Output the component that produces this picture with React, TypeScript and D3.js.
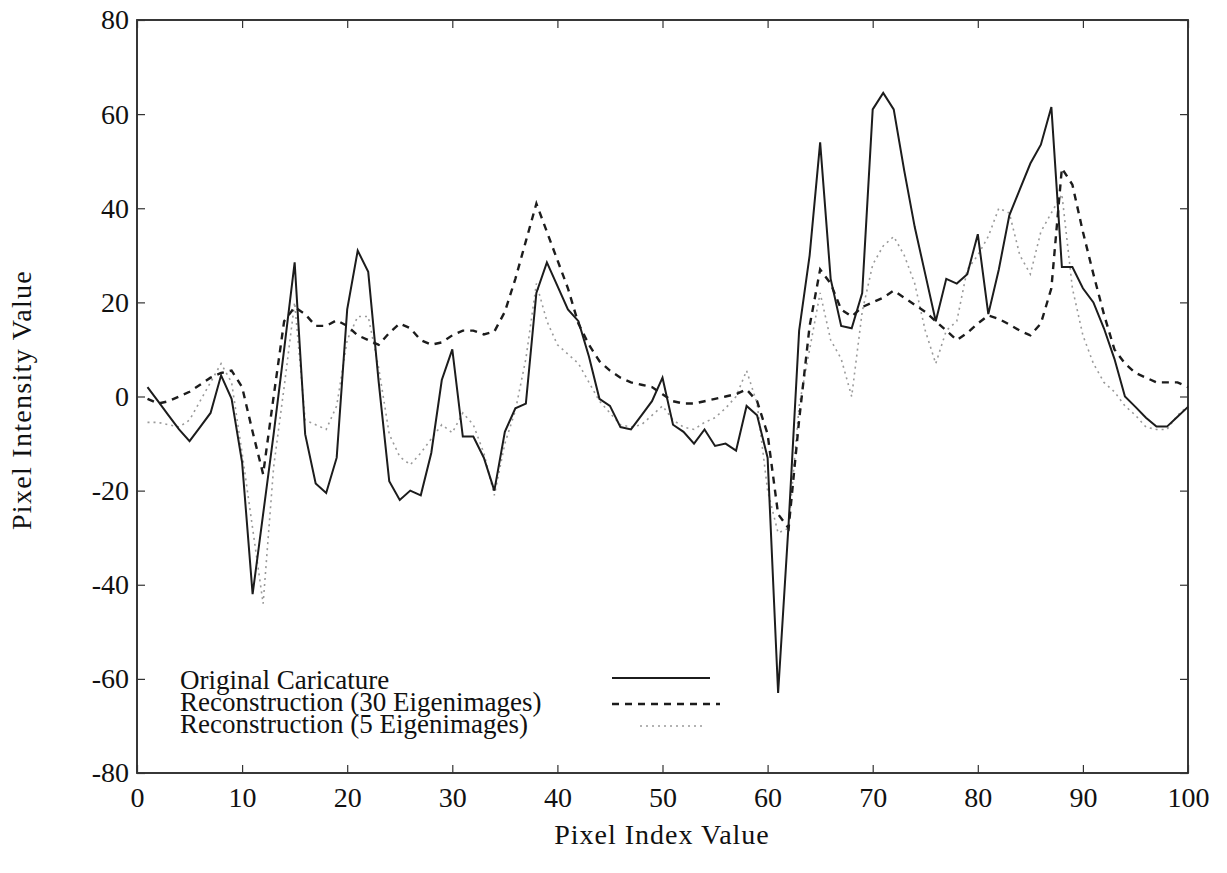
import * as d3 from 'd3';
import { useEffect, useRef } from 'react';

// pixel positions along the sampled profile
const pixelIndex = d3.range(1, 101);

const originalCaricature = [
  2, -1, -4, -7, -9.5, -6.5, -3.5, 4.5, -0.5, -14,
  -42, -25, -8, 10, 28.5, -8, -18.5, -20.5, -13, 18.5,
  31, 26.5, 3, -18, -22, -20, -21, -12, 3.5, 10,
  -8.5, -8.5, -13, -20, -7.5, -2.5, -1.5, 22, 28.5, 23.5,
  18.5, 16, 8.5, -0.5, -2, -6.5, -7, -4, -1, 4,
  -6, -7.5, -10, -7, -10.5, -10, -11.5, -2, -4, -13,
  -63, -27, 14, 30, 54, 25, 15, 14.5, 22, 61,
  64.5, 61, 48, 36, 26, 16, 25, 24, 26, 34.5,
  17.5, 27, 38.5, 44, 49.5, 53.5, 61.5, 27.5, 27.5, 23,
  20, 14.5, 8, 0, -2.2, -4.5, -6.4, -6.4, -4.3, -2.2,
];

const reconstruction30 = [
  -0.5, -1.5, -1, 0, 1, 2.5, 4, 5, 5.5, 2,
  -7.5, -16.5, 0, 16, 19, 17.5, 15, 15, 16.2, 15,
  13, 12, 11, 13.5, 15.5, 14.5, 12, 11, 11.5, 13,
  14, 14, 13.2, 13.8, 18, 25, 33, 41, 35, 29,
  23, 15.5, 11, 7.5, 5.5, 4, 3, 2.5, 2, 0.5,
  -1, -1.5, -1.5, -1, -0.5, 0, 0.5, 1.5, -1, -8,
  -25, -28, -5, 15, 27, 24, 18.5, 17, 19, 20,
  21, 22.5, 21, 19.5, 18, 16, 14, 12, 13.5, 15.5,
  17.2, 16.5, 15.3, 14, 13, 15.5, 23, 48.5, 45, 35,
  26, 17.5, 10, 7, 5, 4, 3, 3, 3, 2,
];

const reconstruction5 = [
  -5.5, -5.5, -6, -6.5, -5, -1, 3, 7, 3, -12,
  -28, -44, -15, 2, 20, -5, -6, -7, -2, 12,
  17, 17, 6, -8, -12.8, -14.5, -12, -9, -6, -7.7,
  -3.5, -6, -12, -21, -10, -3, 8, 24, 16, 11,
  9, 7, 3, -1, -3.5, -6, -6.5, -6, -4, -2,
  -5, -6.5, -7, -5.5, -4.5, -2.5, 0, 5.5, -1.5, -20,
  -29, -28, -2, 10, 22, 12, 8, 0, 18, 28,
  32, 34, 30, 24, 14, 7, 14, 16, 27, 30,
  34, 40, 39, 30, 26, 35, 39, 43, 23, 13,
  7, 3, 1, -2, -4, -6.5, -7, -7, -4, -2,
];

const xTicks = [0, 10, 20, 30, 40, 50, 60, 70, 80, 90, 100];
const yTicks = [-80, -60, -40, -20, 0, 20, 40, 60, 80];
const legendLabels = [
  'Original Caricature',
  'Reconstruction (30 Eigenimages)',
  'Reconstruction (5 Eigenimages)',
];

const FONT = '"Liberation Serif", "Times New Roman", serif';

export default function App() {
  const svgRef = useRef<SVGSVGElement>(null);

  useEffect(() => {
    if (!svgRef.current) return;
    const svg = d3.select(svgRef.current);
    svg.selectAll('*').remove();

    const frame = { left: 137, right: 1188, top: 20, bottom: 773 };
    const x = d3.scaleLinear().domain([0, 100]).range([frame.left, frame.right]);
    const y = d3.scaleLinear().domain([-80, 80]).range([frame.bottom, frame.top]);

    const series = [
      { values: originalCaricature, stroke: '#1c1c1c', width: 2, dash: null },
      { values: reconstruction30, stroke: '#1c1c1c', width: 2.4, dash: '7,6' },
      { values: reconstruction5, stroke: '#9a9a9a', width: 1.6, dash: '2,4' },
    ];

    const line = d3
      .line<number>()
      .x((d, i) => x(pixelIndex[i]))
      .y((d) => y(d));

    // draw the faint one first so the others sit on top
    [series[2], series[1], series[0]].forEach((s) => {
      svg
        .append('path')
        .datum(s.values)
        .attr('fill', 'none')
        .attr('stroke', s.stroke)
        .attr('stroke-width', s.width)
        .attr('stroke-dasharray', s.dash)
        .attr('stroke-linejoin', 'miter')
        .attr('d', line);
    });

    // frame
    svg
      .append('rect')
      .attr('x', frame.left)
      .attr('y', frame.top)
      .attr('width', frame.right - frame.left)
      .attr('height', frame.bottom - frame.top)
      .attr('fill', 'none')
      .attr('stroke', '#222')
      .attr('stroke-width', 1.8);

    const tickLen = 8;
    const plain = (d: d3.NumberValue) => String(d);
    // inward ticks on all four sides
    const bottomAxis = d3.axisBottom(x).tickValues(xTicks).tickSize(-tickLen).tickPadding(14).tickFormat(plain);
    const topAxis = d3.axisTop(x).tickValues(xTicks).tickSize(-tickLen).tickFormat(() => '');
    const leftAxis = d3.axisLeft(y).tickValues(yTicks).tickSize(-tickLen).tickPadding(8).tickFormat(plain);
    const rightAxis = d3.axisRight(y).tickValues(yTicks).tickSize(-tickLen).tickFormat(() => '');

    const gb = svg.append('g').attr('transform', `translate(0,${frame.bottom})`).call(bottomAxis);
    const gt = svg.append('g').attr('transform', `translate(0,${frame.top})`).call(topAxis);
    const gl = svg.append('g').attr('transform', `translate(${frame.left},0)`).call(leftAxis);
    const gr = svg.append('g').attr('transform', `translate(${frame.right},0)`).call(rightAxis);

    [gb, gt, gl, gr].forEach((g) => {
      g.select('.domain').remove();
      g.selectAll('.tick line').attr('stroke', '#333').attr('stroke-width', 1.2);
      g.selectAll('.tick text')
        .attr('fill', '#111')
        .style('font-family', FONT)
        .style('font-size', '28px');
    });

    // axis titles
    svg
      .append('text')
      .attr('x', 662)
      .attr('y', 844)
      .attr('text-anchor', 'middle')
      .style('font-family', FONT)
      .style('font-size', '28px')
      .style('letter-spacing', '1px')
      .attr('fill', '#111')
      .text('Pixel Index Value');

    svg
      .append('text')
      .attr('transform', `translate(31,400) rotate(-90)`)
      .attr('text-anchor', 'middle')
      .style('font-family', FONT)
      .style('font-size', '28px')
      .style('letter-spacing', '1.3px')
      .attr('fill', '#111')
      .text('Pixel Intensity Value');

    // legend
    const sampleY = [-11, -7, -7];
    const sampleX1 = [612, 612, 640];
    const sampleX2 = [710, 720, 705];
    const legend = svg.append('g').attr('transform', 'translate(0,689)');
    legendLabels.forEach((label, i) => {
      const row = legend.append('g').attr('transform', `translate(0,${i * 22})`);
      row
        .append('text')
        .attr('x', 180)
        .attr('y', 0)
        .style('font-family', FONT)
        .style('font-size', '27px')
        .attr('fill', '#111')
        .text(label);
      row
        .append('line')
        .attr('x1', sampleX1[i])
        .attr('x2', sampleX2[i])
        .attr('y1', sampleY[i])
        .attr('y2', sampleY[i])
        .attr('stroke', series[i].stroke)
        .attr('stroke-width', series[i].width)
        .attr('stroke-dasharray', series[i].dash);
    });
  }, []);

  return (
    <svg
      ref={svgRef}
      width={1227}
      height={873}
      style={{ position: 'absolute', left: 0, top: 0, background: '#fff' }}
    />
  );
}
